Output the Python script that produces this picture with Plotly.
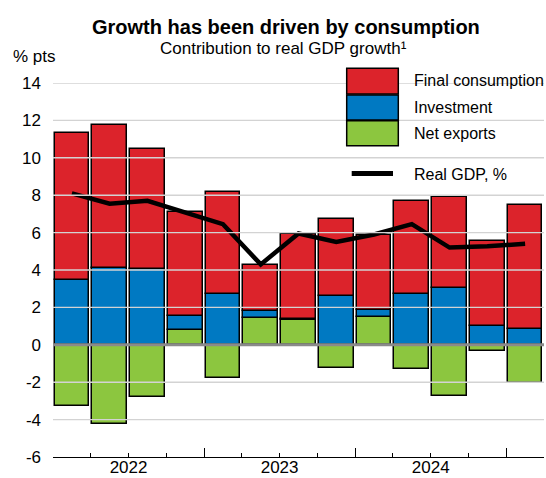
import plotly.graph_objects as go

# ---- data ----
quarters = ["2022 Q1", "2022 Q2", "2022 Q3", "2022 Q4",
            "2023 Q1", "2023 Q2", "2023 Q3", "2023 Q4",
            "2024 Q1", "2024 Q2", "2024 Q3", "2024 Q4",
            "2025 Q1"]
final_consumption = [7.90, 7.64, 6.40, 5.59, 5.42, 2.45, 4.52, 4.12, 4.04, 5.00, 4.90, 4.51, 6.63]
investment        = [3.45, 4.11, 4.06, 0.72, 2.73, 0.35, 0.07, 2.59, 0.36, 2.70, 3.02, 1.03, 0.84]
net_exports       = [-3.29, -4.24, -2.77, 0.80, -1.79, 1.46, 1.32, -1.22, 1.48, -1.29, -2.72, -0.32, -2.06]
real_gdp          = [8.10, 7.55, 7.70, 7.10, 6.45, 4.30, 5.95, 5.50, 5.90, 6.45, 5.20, 5.27, 5.40]
year_labels = ["2022", "2023", "2024"]
y_ticks = [-6, -4, -2, 0, 2, 4, 6, 8, 10, 12, 14]
y_tick_text = ["-6", "-4", "-2", "0", "2", "4", "6", "8", "10", "12", "14"]

RED = "#DC232B"
BLUE = "#0079C2"
GREEN = "#8CC63F"
FONT = "Liberation Sans, Arial, sans-serif"

xs = list(range(len(quarters)))

W, H = 546, 478
L, R, T, B = 53, 544, 83, 457


def px(x):
    return (x - L) / (R - L)


def py(y):
    return (B - y) / (B - T)


fig = go.Figure()
bar_line = dict(color="black", width=1.5)
fig.add_trace(go.Bar(x=xs, y=net_exports, name="Net exports", marker=dict(color=GREEN, line=bar_line),
                     width=0.92, hoverinfo="skip"))
fig.add_trace(go.Bar(x=xs, y=investment, name="Investment", marker=dict(color=BLUE, line=bar_line),
                     width=0.92, hoverinfo="skip"))
fig.add_trace(go.Bar(x=xs, y=final_consumption, name="Final consumption", marker=dict(color=RED, line=bar_line),
                     width=0.92, hoverinfo="skip"))
fig.add_trace(go.Scatter(x=xs, y=real_gdp, name="Real GDP, %", mode="lines",
                         line=dict(color="black", width=4.5), hoverinfo="skip"))
# invisible trace to carry the year tick labels on a second x axis
fig.add_trace(go.Scatter(x=[0], y=[0], xaxis="x2", mode="markers", marker=dict(opacity=0),
                         showlegend=False, hoverinfo="skip"))

shapes = []
# gridlines above bars
for v in y_ticks:
    if v in (-6, 0):
        continue
    shapes.append(dict(type="line", xref="paper", yref="y", x0=0, x1=1, y0=v, y1=v,
                       line=dict(color="#D3D3D3", width=1.4), layer="above"))
# zero line
shapes.append(dict(type="line", xref="paper", yref="y", x0=0, x1=1, y0=0, y1=0,
                   line=dict(color="#8A8A8A", width=3), layer="above"))

# manual legend
box_x0, box_x1 = px(346.7), px(398.3)
legend_boxes = [(RED, 68.3, 94.0), (BLUE, 95.0, 120.0), (GREEN, 120.7, 145.7)]
for col, y0, y1 in legend_boxes:
    shapes.append(dict(type="rect", xref="paper", yref="paper", x0=box_x0, x1=box_x1,
                       y0=py(y1), y1=py(y0), fillcolor=col, line=dict(color="black", width=1.5),
                       layer="above"))
shapes.append(dict(type="line", xref="paper", yref="paper", x0=px(351.7), x1=px(393),
                   y0=py(173.5), y1=py(173.5), line=dict(color="black", width=5), layer="above"))

annotations = []
legend_texts = [("Final consumption", 81), ("Investment", 107.5), ("Net exports", 133), ("Real GDP, %", 174)]
for txt, yy in legend_texts:
    annotations.append(dict(text=txt, xref="paper", yref="paper", x=px(412), y=py(yy),
                            xanchor="left", yanchor="middle", showarrow=False,
                            font=dict(size=16, color="black", family=FONT)))

annotations.append(dict(text="<b>Growth has been driven by consumption</b>", xref="paper", yref="paper",
                        x=px(286), y=py(27), xanchor="center", yanchor="middle", showarrow=False,
                        font=dict(size=20, color="black", family=FONT)))
annotations.append(dict(text="Contribution to real GDP growth¹", xref="paper", yref="paper",
                        x=px(283), y=py(48), xanchor="center", yanchor="middle", showarrow=False,
                        font=dict(size=17, color="black", family=FONT)))
annotations.append(dict(text="% pts", xref="paper", yref="paper",
                        x=px(11), y=py(57), xanchor="left", yanchor="middle", showarrow=False,
                        font=dict(size=17, color="black", family=FONT)))

fig.update_layout(
    width=W, height=H,
    margin=dict(l=L, r=W - R, t=T, b=H - B, pad=0, autoexpand=False),
    paper_bgcolor="white", plot_bgcolor="white",
    barmode="relative", bargap=0,
    showlegend=False,
    shapes=shapes, annotations=annotations,
    font=dict(family=FONT, size=17, color="black"),
    xaxis=dict(range=[-0.5, len(quarters) - 0.5], showgrid=False, zeroline=False, automargin=False,
               showline=True, linecolor="black", linewidth=1,
               tickmode="array", tickvals=[3.5, 7.5, 11.5], ticks="inside", ticklen=9,
               tickcolor="black", tickwidth=1, showticklabels=False,
               minor=dict(tickmode="array", tickvals=[i - 0.5 for i in range(len(quarters) + 1)],
                          ticks="inside", ticklen=4, tickcolor="black", tickwidth=1, showgrid=False)),
    xaxis2=dict(range=[-0.5, len(quarters) - 0.5], overlaying="x", anchor="y", side="bottom",
                showgrid=False, zeroline=False, showline=False, automargin=False,
                tickmode="array", tickvals=[1.5, 5.5, 9.5], ticktext=year_labels, ticks="",
                ticklabelstandoff=-2,
                tickfont=dict(size=17, color="black", family=FONT)),
    yaxis=dict(range=[-6, 14], tickmode="array", tickvals=y_ticks, ticktext=y_tick_text,
               showgrid=False, automargin=False,
               zeroline=False, showline=False, ticks="", ticklabelstandoff=11,
               tickfont=dict(size=17, color="black", family=FONT)),
)

fig.write_html("out.html", config={"displayModeBar": False},
               post_script="document.body.style.margin='0';document.body.style.overflow='hidden';")
